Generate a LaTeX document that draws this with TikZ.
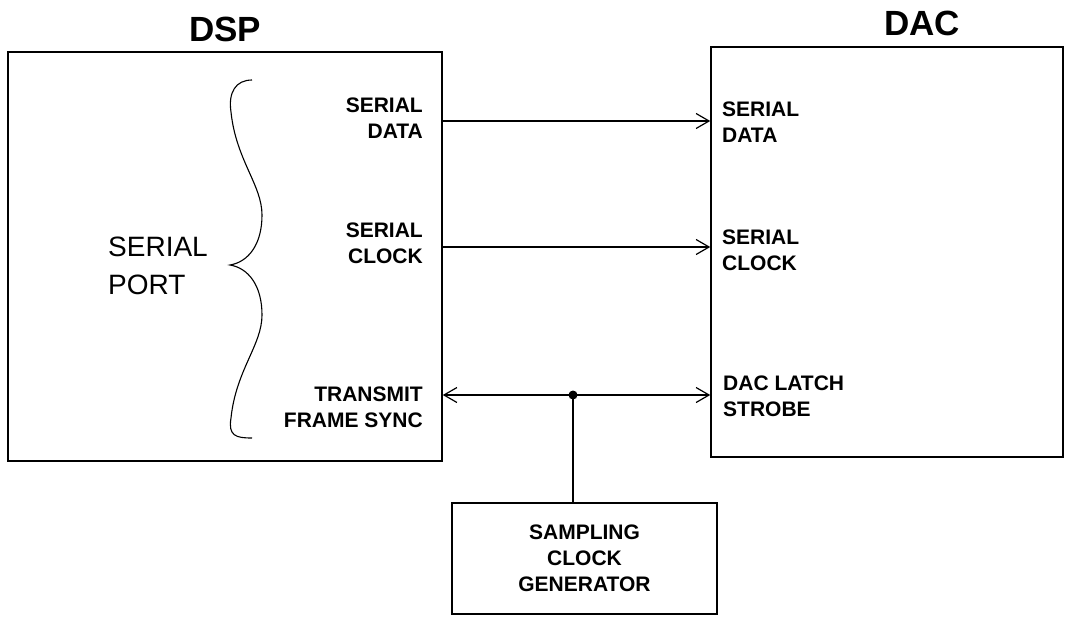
\documentclass[tikz,border=0pt]{standalone}
\usepackage{fontspec}
\setmainfont{Liberation Sans}
\usetikzlibrary{arrows.meta,positioning}

\begin{document}
\begin{tikzpicture}[
  x=1pt, y=-1pt,
  blk/.style={draw, line width=1.5pt, inner sep=0pt},
  title/.style={font=\fontsize{35}{40}\selectfont\bfseries, inner sep=0pt},
  pin/.style={font=\fontsize{21}{26}\selectfont\bfseries, inner sep=0pt},
  sig/.style={draw, line width=1.2pt,
              -{Straight Barb[length=13pt,width=15pt,line width=1.2pt]}}
]
\useasboundingbox (0,0) rectangle (1065,616);

\node[blk, minimum width=434pt, minimum height=409pt] (dsp) at (225,256.5) {};
\node[blk, minimum width=352pt, minimum height=410pt] (dac) at (887,252) {};
\node[blk, pin, align=center, minimum width=265pt, minimum height=111pt]
  (gen) at (584.5,558.5) {SAMPLING\\CLOCK\\GENERATOR};

\node[title, above=9pt of dsp] (dsptitle) {DSP};
\node[title, above=10pt of dac, xshift=35pt] (dactitle) {DAC};

% serial port side
\node[font=\fontsize{28}{38}\selectfont, align=left, anchor=west,
  inner sep=0pt] (port) at (108,266) {SERIAL\\PORT};
\draw[line width=1.1pt] (252,80) .. controls (236,80) and (228,92) .. (231,112)
  .. controls (236,160) and (262,185) .. (262,215)
  .. controls (262,245) and (248,262) .. (230,265)
  .. controls (248,268) and (262,285) .. (262,315)
  .. controls (262,345) and (236,370) .. (231,418)
  .. controls (228,436) and (236,438) .. (252,438);

\node[pin, align=right, anchor=east] (dspsd) at (423,118) {SERIAL\\DATA};
\node[pin, align=right, anchor=east] (dspsc) at (423,243) {SERIAL\\CLOCK};
\node[pin, align=right, anchor=east] (dspfs) at (423,407) {TRANSMIT\\FRAME SYNC};

\node[pin, align=left, anchor=west] (dacsd) at (722,122) {SERIAL\\DATA};
\node[pin, align=left, anchor=west] (dacsc) at (722,250) {SERIAL\\CLOCK};
\node[pin, align=left, anchor=west] (daclt) at (723,396) {DAC LATCH\\STROBE};

% signal levels
\coordinate (sdat) at (0,121);
\coordinate (sclk) at (0,247);
\coordinate (fsync) at (573,395);

\draw[sig] (dsp.east |- sdat) -- (dac.west |- sdat);
\draw[sig] (dsp.east |- sclk) -- (dac.west |- sclk);
\draw[sig] (fsync) -- (fsync -| dsp.east);
\draw[sig] (fsync) -- (fsync -| dac.west);
\draw[line width=1.2pt] (fsync) -- (fsync |- gen.north);
\fill (fsync) circle (4.5pt);
\end{tikzpicture}
\end{document}
